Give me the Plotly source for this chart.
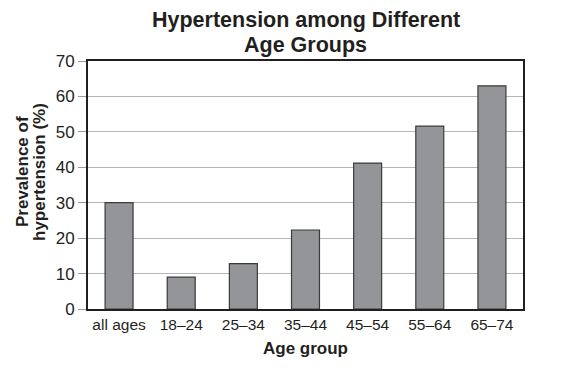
import plotly.graph_objects as go

categories = ["all ages", "18–24", "25–34", "35–44", "45–54", "55–64", "65–74"]
prevalence = [30, 9, 12.8, 22.3, 41.2, 51.6, 63]
y_ticks = [0, 10, 20, 30, 40, 50, 60, 70]

title_lines = ["Hypertension among Different", "Age Groups"]
x_title = "Age group"
y_title_lines = ["Prevalence of", "hypertension (%)"]

TXT = "#231f20"
fig = go.Figure(go.Bar(
    x=categories, y=prevalence,
    marker=dict(color="#939598", line=dict(color="#3a3a3a", width=1.2)),
    width=0.45,
))

ann = []
for txt, ys in zip(title_lines, [41, 16]):
    ann.append(dict(text="<b>%s</b>" % txt, xref="paper", yref="paper", x=0.5, y=1,
                    xanchor="center", yanchor="middle", yshift=ys, showarrow=False,
                    font=dict(size=21.5, color=TXT)))
ann.append(dict(text="<b>%s</b>" % x_title, xref="paper", yref="paper", x=0.5, y=0,
                xanchor="center", yanchor="middle", yshift=-39, showarrow=False,
                font=dict(size=17, color=TXT)))
for txt, xs in zip(y_title_lines, [-66, -49]):
    ann.append(dict(text="<b>%s</b>" % txt, xref="paper", yref="paper", x=0, y=0.5,
                    xanchor="center", yanchor="middle", xshift=xs, yshift=13,
                    textangle=-90, showarrow=False, font=dict(size=17, color=TXT)))

fig.update_layout(
    width=566, height=374,
    paper_bgcolor="white", plot_bgcolor="white",
    margin=dict(l=80, r=51, t=53, b=73, autoexpand=False),
    font=dict(family="Liberation Sans, Arial", color=TXT),
    showlegend=False,
    bargap=0.55,
    annotations=ann,
)
fig.update_xaxes(
    showline=True, linecolor=TXT, linewidth=2, mirror=True,
    ticks="", tickfont=dict(size=15.5), automargin=False,
)
fig.update_yaxes(
    range=[0, 70], tickvals=y_ticks, showline=True, linecolor=TXT,
    linewidth=2, mirror=True, showgrid=True, gridcolor="#b5b5b5", gridwidth=1,
    ticks="outside", ticklen=8, tickcolor="#9a9a9a", tickfont=dict(size=17),
    zeroline=False, automargin=False,
)

fig.write_html("out.html")
